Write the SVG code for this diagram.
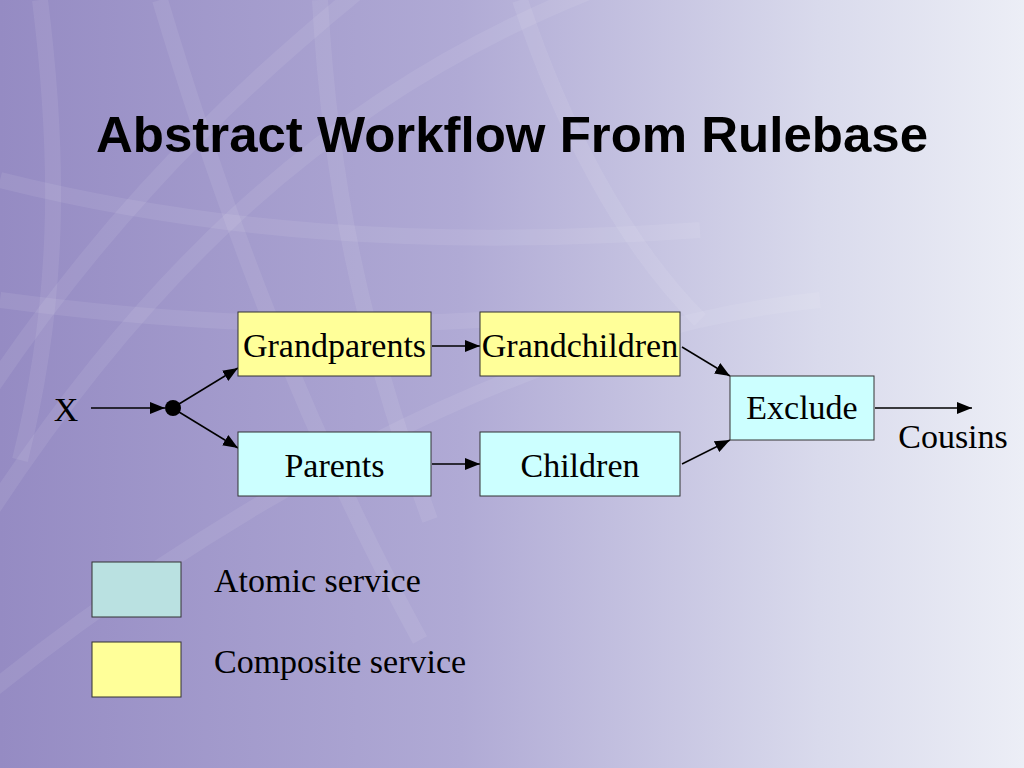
<svg xmlns="http://www.w3.org/2000/svg" width="1024" height="768" viewBox="0 0 1024 768">
<defs>
<linearGradient id="bg" x1="0" y1="0" x2="1" y2="0">
<stop offset="0" stop-color="#958bc3"/>
<stop offset="0.45" stop-color="#b0aad5"/>
<stop offset="0.8" stop-color="#d9daec"/>
<stop offset="1" stop-color="#eceef6"/>
</linearGradient>
<marker id="ah" viewBox="0 0 15 12" refX="15" refY="6" markerWidth="15" markerHeight="12" markerUnits="userSpaceOnUse" orient="auto">
<path d="M0,0 L15,6 L0,12 Z" fill="#000"/>
</marker>
<style>
.box{stroke:#333;stroke-width:1}
.comp{fill:#ffff99}
.atom{fill:#ccffff}
.lab{font-family:"Liberation Serif","Times New Roman",serif;font-size:34px;fill:#000}
.conn{stroke:#000;stroke-width:1.5;fill:none;marker-end:url(#ah)}
.deco{fill:none;stroke:#ffffff;stroke-opacity:0.08;stroke-width:16}
</style>
</defs>
<rect width="1024" height="768" fill="url(#bg)"/>
<g id="decoration">
<path class="deco" d="M-40,560 C120,300 320,90 620,-20"/>
<path class="deco" d="M-30,420 C80,250 200,120 360,-10"/>
<path class="deco" d="M160,0 C220,200 300,420 420,640"/>
<path class="deco" d="M320,0 C330,180 360,330 430,520"/>
<path class="deco" d="M0,180 C200,230 420,250 700,230"/>
<path class="deco" d="M0,300 C150,320 300,330 480,320"/>
<path class="deco" d="M-20,700 C200,520 520,330 820,300"/>
<path class="deco" d="M520,0 C560,120 620,240 700,320"/>
<path class="deco" d="M40,0 C60,160 60,300 20,460"/>
</g>
<text id="title" x="96" y="152" font-family="'Liberation Sans',Arial,sans-serif" font-weight="bold" font-size="50" textLength="832" lengthAdjust="spacingAndGlyphs" fill="#000">Abstract Workflow From Rulebase</text>
<g id="connectors">
<line class="conn" x1="91" y1="408" x2="165" y2="408"/>
<line class="conn" x1="179" y1="404" x2="238" y2="368"/>
<line class="conn" x1="179" y1="412" x2="238" y2="448"/>
<line class="conn" x1="432" y1="346" x2="480" y2="346"/>
<line class="conn" x1="432" y1="464" x2="480" y2="464"/>
<line class="conn" x1="682" y1="347" x2="730" y2="376"/>
<line class="conn" x1="682" y1="464" x2="730" y2="440"/>
<line class="conn" x1="875" y1="408" x2="972" y2="408"/>
</g>
<g id="input"><text class="lab" x="66" y="421" text-anchor="middle">X</text></g>
<g id="split"><circle cx="173" cy="408" r="8" fill="#000"/></g>
<g id="grandparents"><rect class="box comp" x="238" y="312" width="193" height="64"/><text class="lab" x="334.5" y="357" text-anchor="middle">Grandparents</text></g>
<g id="grandchildren"><rect class="box comp" x="480" y="312" width="200" height="64"/><text class="lab" x="580" y="357" text-anchor="middle">Grandchildren</text></g>
<g id="parents"><rect class="box atom" x="238" y="432" width="193" height="64"/><text class="lab" x="334.5" y="477" text-anchor="middle">Parents</text></g>
<g id="children"><rect class="box atom" x="480" y="432" width="200" height="64"/><text class="lab" x="580" y="477" text-anchor="middle">Children</text></g>
<g id="exclude"><rect class="box atom" x="730" y="376" width="144" height="64"/><text class="lab" x="802" y="419" text-anchor="middle">Exclude</text></g>
<g id="output"><text class="lab" x="953" y="448" text-anchor="middle">Cousins</text></g>
<g id="legend-atomic"><rect class="box" fill="#bae1e1" x="92" y="562" width="89" height="55"/><text class="lab" x="214" y="592">Atomic service</text></g>
<g id="legend-composite"><rect class="box comp" x="92" y="642" width="89" height="55"/><text class="lab" x="214" y="673">Composite service</text></g>
</svg>
